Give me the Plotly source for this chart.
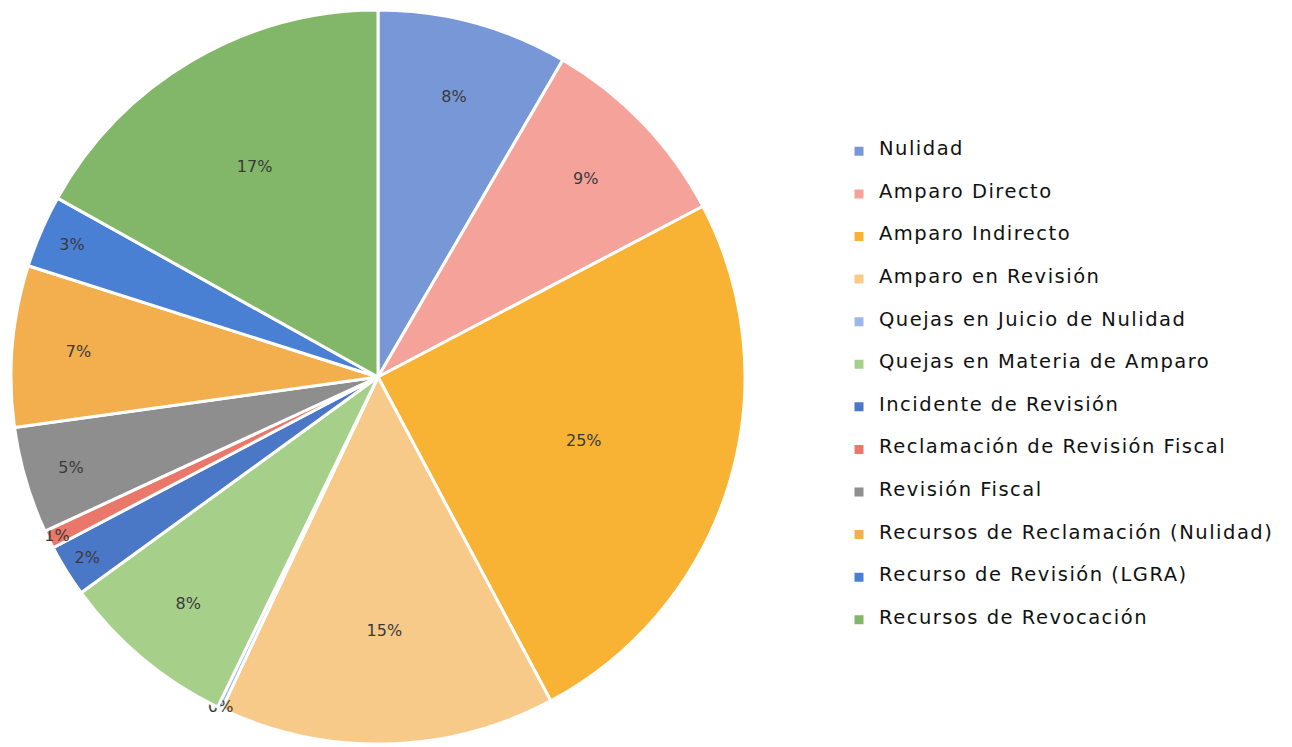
import plotly.graph_objects as go

categories = [
    "Nulidad",
    "Amparo Directo",
    "Amparo Indirecto",
    "Amparo en Revisión",
    "Quejas en Juicio de Nulidad",
    "Quejas en Materia de Amparo",
    "Incidente de Revisión",
    "Reclamación de Revisión Fiscal",
    "Revisión Fiscal",
    "Recursos de Reclamación (Nulidad)",
    "Recurso de Revisión (LGRA)",
    "Recursos de Revocación",
]
values = [8.4, 8.9, 24.9, 14.8, 0.2, 7.8, 2.3, 0.8, 4.7, 7.1, 3.2, 16.9]
colors = [
    "#7797D6", "#F5A29A", "#F8B335", "#F8CA8A", "#9DB8E8", "#A6D08A",
    "#4A77C6", "#E9786A", "#8E8E8E", "#F3AE4E", "#4A80D4", "#82B668",
]

W, H = 1292, 747
legend_labels = [
    "\u00a0<br><span style='font-size:19.5px;letter-spacing:1.5px'>%s</span><br>\u00a0" % c
    for c in categories
]

fig = go.Figure(go.Pie(
    labels=legend_labels,
    values=values,
    sort=False,
    direction="clockwise",
    rotation=0,
    marker=dict(colors=colors, line=dict(color="white", width=3)),
    texttemplate="%{percent:.0%}",
    textposition="inside",
    insidetextorientation="horizontal",
    textfont=dict(family="DejaVu Sans", size=16, color="#3a3a3a"),
    domain=dict(x=[3 / W, 737 / W], y=[11 / H, 745 / H]),
    hovertemplate="%{customdata}: %{percent}<extra></extra>",
    customdata=categories,
))

fig.update_layout(
    width=W, height=H,
    margin=dict(l=0, r=0, t=0, b=0),
    paper_bgcolor="white",
    plot_bgcolor="white",
    uniformtext=dict(minsize=16, mode="show"),
    showlegend=True,
    legend=dict(
        x=831 / W, y=(H - 117) / H, xanchor="left", yanchor="top",
        font=dict(family="DejaVu Sans", size=10.15, color="#111111"),
        bgcolor="rgba(0,0,0,0)",
        traceorder="normal",
    ),
)

fig.write_html("out.html")
